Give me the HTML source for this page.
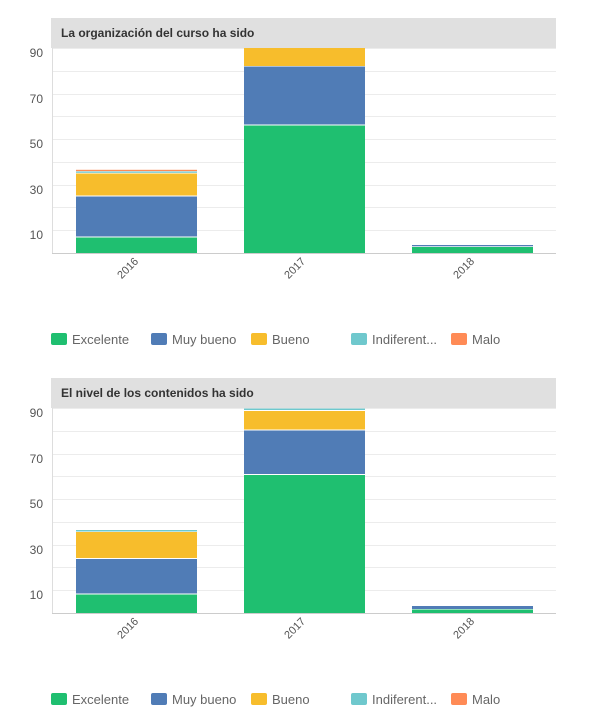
<!DOCTYPE html>
<html><head><meta charset="utf-8"><style>
html,body{margin:0;padding:0;background:#fff;}
svg{display:block;font-family:"Liberation Sans",sans-serif;}
</style></head><body>
<svg width="607" height="726" viewBox="0 0 607 726" xmlns="http://www.w3.org/2000/svg">
<defs>
<g id="grid">
  <line x1="52" x2="556" y1="48.5" y2="48.5" stroke="#ececec"/>
  <line x1="52" x2="556" y1="71.5" y2="71.5" stroke="#ececec"/>
  <line x1="52" x2="556" y1="94.5" y2="94.5" stroke="#ececec"/>
  <line x1="52" x2="556" y1="116.5" y2="116.5" stroke="#ececec"/>
  <line x1="52" x2="556" y1="139.5" y2="139.5" stroke="#ececec"/>
  <line x1="52" x2="556" y1="162.5" y2="162.5" stroke="#ececec"/>
  <line x1="52" x2="556" y1="185.5" y2="185.5" stroke="#ececec"/>
  <line x1="52" x2="556" y1="207.5" y2="207.5" stroke="#ececec"/>
  <line x1="52" x2="556" y1="230.5" y2="230.5" stroke="#ececec"/>
  <g font-size="12" fill="#555" text-anchor="end">
    <text x="43" y="57">90</text><text x="43" y="103">70</text><text x="43" y="148">50</text><text x="43" y="194">30</text><text x="43" y="239">10</text>
  </g>
  <g font-size="11" fill="#555" text-anchor="end">
    <text transform="translate(139,262) rotate(-45)">2016</text>
    <text transform="translate(306,262) rotate(-45)">2017</text>
    <text transform="translate(475,262) rotate(-45)">2018</text>
  </g>
  <g font-size="13" fill="#666">
    <rect x="51" y="333" width="16" height="12" rx="2" fill="#1fbf70"/><text x="72" y="344">Excelente</text>
    <rect x="151" y="333" width="16" height="12" rx="2" fill="#507cb6"/><text x="172" y="344">Muy bueno</text>
    <rect x="251" y="333" width="16" height="12" rx="2" fill="#f7bd2c"/><text x="272" y="344">Bueno</text>
    <rect x="351" y="333" width="16" height="12" rx="2" fill="#6fc8cd"/><text x="372" y="344">Indiferent...</text>
    <rect x="451" y="333" width="16" height="12" rx="2" fill="#ff8b56"/><text x="472" y="344">Malo</text>
  </g>
</g>
</defs>

<!-- Chart 1 -->
<rect x="51" y="18" width="505" height="30" fill="#e0e0e0"/>
<text x="61" y="37" font-size="12" font-weight="bold" fill="#333">La organización del curso ha sido</text>
<use href="#grid"/>
<rect x="76" y="237.5" width="121" height="15.5" fill="#1fbf70"/>
<rect x="76" y="196.5" width="121" height="40" fill="#507cb6"/>
<rect x="76" y="173.5" width="121" height="22" fill="#f7bd2c"/>
<rect x="76" y="171.5" width="121" height="1.3" fill="#6fc8cd"/>
<rect x="76" y="169.8" width="121" height="1.3" fill="#ff8b56"/>
<rect x="244" y="125.5" width="121" height="127.5" fill="#1fbf70"/>
<rect x="244" y="66.5" width="121" height="58" fill="#507cb6"/>
<rect x="244" y="48" width="121" height="18" fill="#f7bd2c"/>
<rect x="412" y="247" width="121" height="6" fill="#1fbf70"/>
<rect x="412" y="245" width="121" height="1.3" fill="#507cb6"/>
<line x1="52" x2="556" y1="253.5" y2="253.5" stroke="#ccc"/>
<line x1="52.5" x2="52.5" y1="48" y2="253" stroke="#ddd"/>

<!-- Chart 2 -->
<rect x="51" y="378" width="505" height="30" fill="#e0e0e0"/>
<text x="61" y="397" font-size="12" font-weight="bold" fill="#333">El nivel de los contenidos ha sido</text>
<use href="#grid" transform="translate(0,360)"/>
<rect x="76" y="594.5" width="121" height="18.5" fill="#1fbf70"/>
<rect x="76" y="559" width="121" height="34.5" fill="#507cb6"/>
<rect x="76" y="532" width="121" height="26" fill="#f7bd2c"/>
<rect x="76" y="530" width="121" height="1.5" fill="#6fc8cd"/>
<rect x="244" y="475" width="121" height="138" fill="#1fbf70"/>
<rect x="244" y="430.5" width="121" height="43.5" fill="#507cb6"/>
<rect x="244" y="411" width="121" height="18.5" fill="#f7bd2c"/>
<rect x="244" y="408.5" width="121" height="1.5" fill="#6fc8cd"/>
<rect x="412" y="609.5" width="121" height="3.5" fill="#1fbf70"/>
<rect x="412" y="606" width="121" height="3" fill="#507cb6"/>
<line x1="52" x2="556" y1="613.5" y2="613.5" stroke="#ccc"/>
<line x1="52.5" x2="52.5" y1="408" y2="613" stroke="#ddd"/>
</svg>
</body></html>
